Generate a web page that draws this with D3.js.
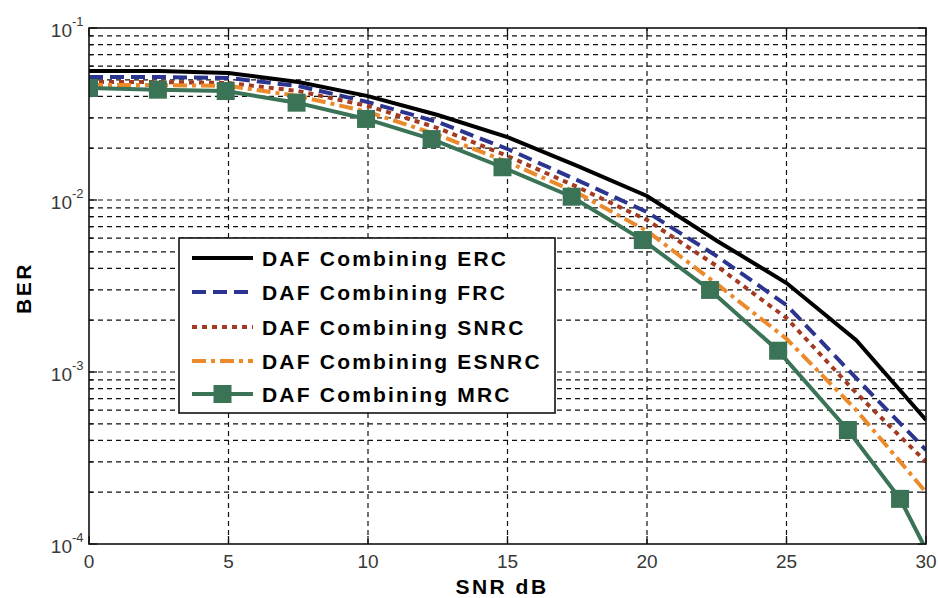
<!DOCTYPE html>
<html>
<head>
  <meta charset="utf-8">
  <title>DAF Combining BER</title>
  <script src="https://d3js.org/d3.v7.min.js"></script>
  <style>
    body { margin: 0; background: #fff; }

    .tickLabel {
      font-family: Arial, "Liberation Sans", sans-serif;
      font-size: 19px;
      fill: #383838;
    }

    .axisLabel {
      font-family: Arial, "Liberation Sans", sans-serif;
      font-size: 21px;
      font-weight: bold;
      letter-spacing: 2.5px;
    }

    .legendText {
      font-family: Arial, "Liberation Sans", sans-serif;
      font-size: 21px;
      font-weight: bold;
      letter-spacing: 2.2px;
    }
  </style>
</head>
<body>
  <div id="chart"></div>
  <script>

    /* DATA */

    let snr = [0, 2.5, 5, 7.5, 10, 12.5, 15, 17.5, 20, 22.5, 25, 27.5, 30];

    let berERC   = [0.0562, 0.0562, 0.0548, 0.0485, 0.0402, 0.0312, 0.0232, 0.0158, 0.01055, 0.0058, 0.00329, 0.00153, 0.000526];
    let berFRC   = [0.0519, 0.0519, 0.0512, 0.0460, 0.0371, 0.0284, 0.0198, 0.01306, 0.00851, 0.00472, 0.00245, 0.00092, 0.000352];
    let berSNRC  = [0.0485, 0.0485, 0.0479, 0.0430, 0.0352, 0.0262, 0.01803, 0.01191, 0.00765, 0.00413, 0.00206, 0.000755, 0.00030];
    let berESNRC = [0.0466, 0.0466, 0.0460, 0.0402, 0.0325, 0.0239, 0.01663, 0.0110, 0.00661, 0.00325, 0.00156, 0.000601, 0.00020];

    // MRC curve carries square markers at its sample points
    let snrMRC = [0, 2.47, 4.9, 7.44, 9.93, 12.28, 14.82, 17.3, 19.85, 22.26, 24.7, 27.2, 29.07, 30];
    let berMRC = [0.0448, 0.0438, 0.0430, 0.0368, 0.0296, 0.0226, 0.0155, 0.01045, 0.00585, 0.0030, 0.00133, 0.00046, 0.000183, 0.000093];

    let seriesNames = ["DAF Combining ERC", "DAF Combining FRC", "DAF Combining SNRC", "DAF Combining ESNRC", "DAF Combining MRC"];

    let xTicks = [0, 5, 10, 15, 20, 25, 30];
    let yDecades = [-4, -3, -2, -1];

    /* CANVAS */

    let chart = {};
    chart.width = 938;
    chart.height = 598;
    chart.margin = {top: 28, left: 89, right: 12, bottom: 54};

    chart.svg = d3.select("#chart")
      .append("svg")
      .attr("width", chart.width)
      .attr("height", chart.height);

    /* SCALES */

    chart.xScale = d3.scaleLinear()
      .domain([0, 30])
      .range([chart.margin.left, chart.width - chart.margin.right]);

    chart.yScale = d3.scaleLog()
      .domain([1e-4, 1e-1])
      .range([chart.height - chart.margin.bottom, chart.margin.top]);

    let x0 = chart.margin.left,
        x1 = chart.width - chart.margin.right,
        y0 = chart.height - chart.margin.bottom,
        y1 = chart.margin.top;

    /* GRID */

    let minorValues = [];
    yDecades.slice(0, 3).forEach(function(p) {
      for (let m = 1; m <= 9; m++) minorValues.push(m * Math.pow(10, p));
    });
    minorValues.push(1e-1);

    chart.grid = chart.svg.append("g")
      .attr("stroke", "#111")
      .attr("stroke-width", 1.2)
      .attr("stroke-dasharray", "5,4");

    chart.grid.selectAll("line.h")
      .data(minorValues.filter(function(v) { return v > 1e-4 && v < 1e-1; }))
      .enter()
      .append("line")
        .attr("class", "h")
        .attr("x1", x0).attr("x2", x1)
        .attr("y1", function(d) { return chart.yScale(d); })
        .attr("y2", function(d) { return chart.yScale(d); });

    chart.grid.selectAll("line.v")
      .data(xTicks.slice(1, -1))
      .enter()
      .append("line")
        .attr("class", "v")
        .attr("y1", y0).attr("y2", y1)
        .attr("x1", function(d) { return chart.xScale(d); })
        .attr("x2", function(d) { return chart.xScale(d); });

    /* TICK MARKS (inward, both sides) */

    let ticks = chart.svg.append("g").attr("stroke", "#111").attr("stroke-width", 1.3);

    xTicks.forEach(function(t) {
      let x = chart.xScale(t);
      ticks.append("line").attr("x1", x).attr("x2", x).attr("y1", y0).attr("y2", y0 - 8);
      ticks.append("line").attr("x1", x).attr("x2", x).attr("y1", y1).attr("y2", y1 + 8);
    });

    minorValues.forEach(function(v) {
      let y = chart.yScale(v);
      let len = (Math.abs(Math.log10(v) - Math.round(Math.log10(v))) < 1e-9) ? 8 : 4;
      ticks.append("line").attr("x1", x0).attr("x2", x0 + len).attr("y1", y).attr("y2", y);
      ticks.append("line").attr("x1", x1).attr("x2", x1 - len).attr("y1", y).attr("y2", y);
    });

    /* TICK LABELS */

    chart.svg.selectAll("text.xt")
      .data(xTicks)
      .enter()
      .append("text")
        .attr("class", "tickLabel xt")
        .attr("x", function(d) { return chart.xScale(d); })
        .attr("y", y0 + 24)
        .attr("text-anchor", "middle")
        .text(function(d) { return d; });

    yDecades.forEach(function(p) {
      let y = chart.yScale(Math.pow(10, p));
      chart.svg.append("text")
        .attr("class", "tickLabel")
        .attr("x", 72)
        .attr("y", y + 9)
        .attr("text-anchor", "end")
        .text("10");
      chart.svg.append("text")
        .attr("class", "tickLabel")
        .attr("x", 72)
        .attr("y", y - 2)
        .style("font-size", "13px")
        .text("-" + Math.abs(p));
    });

    /* AXIS LABELS */

    chart.svg.append("text")
      .attr("class", "axisLabel")
      .attr("x", 502)
      .attr("y", 594)
      .attr("text-anchor", "middle")
      .text("SNR dB");

    chart.svg.append("text")
      .attr("class", "axisLabel")
      .attr("transform", "rotate(-90)")
      .attr("x", -288)
      .attr("y", 31)
      .attr("text-anchor", "middle")
      .text("BER");

    /* LINES */

    chart.svg.append("clipPath")
      .attr("id", "plotClip")
      .append("rect")
        .attr("x", x0).attr("y", y1)
        .attr("width", x1 - x0).attr("height", y0 - y1);

    let styles = [
      {color: "#000000", dash: null},
      {color: "#2b3590", dash: "14,7"},
      {color: "#a33b22", dash: "5,5"},
      {color: "#eb8a2a", dash: "14,5,4,5"},
      {color: "#3b7356", dash: null}
    ];

    let series = [
      {x: snr, y: berERC},
      {x: snr, y: berFRC},
      {x: snr, y: berSNRC},
      {x: snr, y: berESNRC},
      {x: snrMRC, y: berMRC}
    ];

    let line = d3.line()
      .x(function(d) { return chart.xScale(d[0]); })
      .y(function(d) { return chart.yScale(d[1]); });

    chart.lines = chart.svg.append("g").attr("clip-path", "url(#plotClip)");

    series.forEach(function(s, i) {
      chart.lines.append("path")
        .datum(d3.zip(s.x, s.y))
        .attr("d", line)
        .attr("fill", "none")
        .attr("stroke", styles[i].color)
        .attr("stroke-width", 4)
        .attr("stroke-dasharray", styles[i].dash);
    });

    chart.lines.selectAll("rect.marker")
      .data(d3.zip(snrMRC, berMRC).slice(0, -1))
      .enter()
      .append("rect")
        .attr("class", "marker")
        .attr("x", function(d) { return chart.xScale(d[0]) - 9; })
        .attr("y", function(d) { return chart.yScale(d[1]) - 9; })
        .attr("width", 18)
        .attr("height", 18)
        .attr("fill", styles[4].color);

    /* AXES BOX */

    chart.svg.append("rect")
      .attr("x", x0).attr("y", y1)
      .attr("width", x1 - x0).attr("height", y0 - y1)
      .attr("fill", "none")
      .attr("stroke", "#111")
      .attr("stroke-width", 1.6);

    /* LEGEND */

    let legend = chart.svg.append("g");

    legend.append("rect")
      .attr("x", 179).attr("y", 238)
      .attr("width", 376).attr("height", 175)
      .attr("fill", "#fff")
      .attr("stroke", "#111")
      .attr("stroke-width", 1.6);

    let rowY = [258, 292, 327, 361, 394];

    seriesNames.forEach(function(name, i) {
      legend.append("line")
        .attr("x1", 192).attr("x2", 253)
        .attr("y1", rowY[i]).attr("y2", rowY[i])
        .attr("stroke", styles[i].color)
        .attr("stroke-width", 4)
        .attr("stroke-dasharray", styles[i].dash);
      if (i === 4) {
        legend.append("rect")
          .attr("x", 222.5 - 9).attr("y", rowY[i] - 9)
          .attr("width", 18).attr("height", 18)
          .attr("fill", styles[i].color);
      }
      legend.append("text")
        .attr("class", "legendText")
        .attr("x", 262)
        .attr("y", rowY[i] + 8)
        .text(name);
    });

  </script>
</body>
</html>
